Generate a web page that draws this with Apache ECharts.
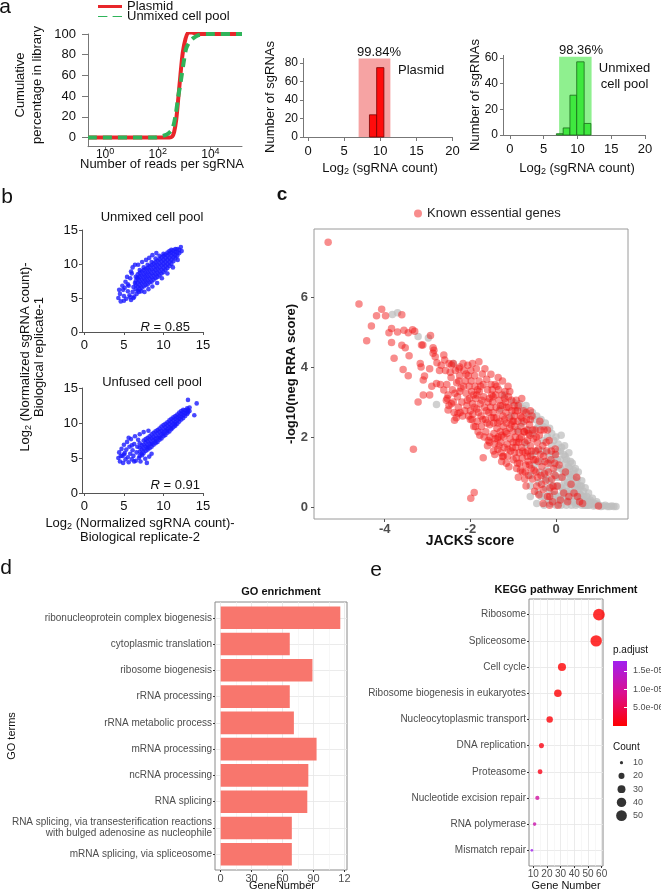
<!DOCTYPE html>
<html><head><meta charset="utf-8">
<script src="https://cdn.jsdelivr.net/npm/echarts@6/dist/echarts.min.js"></script>
<style>html,body{margin:0;padding:0;background:#fff}#c{width:661px;height:892px}</style>
</head><body><div id="c"></div>
<script>
// ================= DATA =================
// Panel a (left): cumulative distribution, x = log10(reads per sgRNA)
const cdfTicks = [0, 2, 4];
const cdfYTicks = [0, 20, 40, 60, 80, 100];
const cdfPlasmid = [[-0.65,0],[2.45,0],[2.55,1],[2.62,5],[2.7,17],[2.78,38],[2.86,60],[2.95,82],[3.05,95],[3.15,101],[3.3,101.5],[3.5,100],[5.2,100]];
const cdfUnmixed = [[-0.65,0],[1.9,0],[2.1,1],[2.35,3],[2.55,8],[2.68,22],[2.78,40],[2.88,55],[2.98,72],[3.08,86],[3.2,92],[3.35,96],[3.55,99],[3.85,100],[5.2,100]];
// Panel a (middle/right): histograms [binStart, binEnd, count]
const histXTicks = [0, 5, 10, 15, 20];
const plasmidBins = [[8.5,9.5,24],[9.5,10.5,75]];
const plasmidRange = [[7.0,11.4,85]];
const plasmidPct = '99.84%';
const unmixedBins = [[6.9,7.9,1],[7.9,8.9,5.5],[8.9,9.9,31],[9.9,11.0,57],[11.0,12.0,9]];
const unmixedRange = [[7.3,12.1,61]];
const unmixedPct = '98.36%';
// Panel b: replicate correlation (log2 normalized counts)
const repTicks = [0, 5, 10, 15];
const unmixedRep = [
[4.3,5.0],[4.5,5.6],[4.6,4.5],[4.9,6.2],[5.0,5.3],[5.2,7.4],[5.3,4.9],[5.5,6.0],[5.6,6.8],[5.7,5.4],[5.8,7.9],[5.9,4.7],[6.0,8.6],[6.1,5.9],[6.2,6.6],[6.3,5.2],[6.4,7.2],[6.6,5.6],[6.7,8.0],[6.9,5.9],[7.2,6.0],[4.8,6.8],[5.4,8.1],[5.1,6.5],[5.8,5.1],[4.4,6.2],[5.0,4.6],[5.5,7.0],[6.2,5.0],
[6.5,6.3],[6.5,6.9],[6.5,7.5],[6.5,8.1],[6.75,6.1],[6.75,6.7],[6.75,7.3],[6.75,7.9],[6.75,8.5],
[7,6.3],[7,6.9],[7,7.5],[7,8.1],[7,8.7],[7,9.1],[7.25,6.5],[7.25,7.1],[7.25,7.7],[7.25,8.3],[7.25,8.9],
[7.5,6.7],[7.5,7.3],[7.5,7.9],[7.5,8.5],[7.5,9.1],[7.5,9.5],[7.75,6.9],[7.75,7.5],[7.75,8.1],[7.75,8.7],[7.75,9.3],
[8,7.0],[8,7.6],[8,8.2],[8,8.8],[8,9.4],[8,9.9],[8.25,7.3],[8.25,7.9],[8.25,8.5],[8.25,9.1],[8.25,9.7],
[8.5,7.4],[8.5,8.0],[8.5,8.6],[8.5,9.2],[8.5,9.8],[8.5,10.3],[8.75,7.7],[8.75,8.3],[8.75,8.9],[8.75,9.5],[8.75,10.1],
[9,7.9],[9,8.5],[9,9.1],[9,9.7],[9,10.3],[9,10.8],[9.25,8.1],[9.25,8.7],[9.25,9.3],[9.25,9.9],[9.25,10.5],
[9.5,8.3],[9.5,8.9],[9.5,9.5],[9.5,10.1],[9.5,10.7],[9.5,11.2],[9.75,8.6],[9.75,9.2],[9.75,9.8],[9.75,10.4],[9.75,11.0],
[10,8.8],[10,9.4],[10,10.0],[10,10.6],[10,11.2],[10,11.5],[10.25,9.1],[10.25,9.7],[10.25,10.3],[10.25,10.9],[10.25,11.4],
[10.5,9.4],[10.5,10.0],[10.5,10.6],[10.5,11.2],[10.5,11.7],[10.75,9.7],[10.75,10.3],[10.75,10.9],[10.75,11.5],[10.75,11.9],
[11,10.0],[11,10.6],[11,11.2],[11,11.7],[11,12.1],[11.25,10.4],[11.25,11.0],[11.25,11.5],[11.25,12.0],
[11.5,10.8],[11.5,11.3],[11.5,11.8],[11.5,12.2],[11.75,11.2],[11.75,11.7],[11.75,12.2],[12,11.6],[12,12.1],
[5.9,8.9],[6.1,9.5],[6.4,9.9],[6.8,9.9],[7.3,10.3],[7.8,10.6],[8.2,10.9],[8.6,11.3],[9.1,11.6],[7.6,5.9],[8.1,6.3],[8.6,6.7],[9.2,7.2],[9.8,7.9],[10.5,8.6],[11.2,9.5],[11.8,10.6],[12.3,11.9],[12.2,12.5]
];
const unfusedRep = [
[4.3,5.0],[4.4,5.8],[4.5,4.5],[4.7,6.3],[4.8,5.3],[4.9,4.3],[5.0,6.9],[5.1,5.7],[5.2,4.8],[5.3,6.2],[5.4,7.3],[5.5,5.1],[5.6,4.4],[5.7,6.6],[5.8,5.6],[5.9,7.7],[6.0,4.8],[6.1,6.1],[6.2,5.3],[6.3,7.0],[6.4,8.1],[6.5,4.6],[6.6,5.8],[6.7,6.6],[6.8,7.6],[6.9,5.0],[7.0,8.4],[7.1,4.5],[7.3,5.4],[7.5,8.7],[7.7,4.9],[7.9,4.3],[8.2,5.2],[8.5,5.6],[8.1,8.9],[5.0,5.5],[5.6,7.9],[6.3,4.5],[4.6,5.3],[6.0,6.8],
[7,5.3],[7,5.9],[7,6.5],[7,7.1],[7.25,5.6],[7.25,6.2],[7.25,6.8],[7.5,5.7],[7.5,6.3],[7.5,6.9],[7.5,7.5],[7.75,6.0],[7.75,6.6],[7.75,7.2],[7.75,7.7],
[8,6.2],[8,6.8],[8,7.4],[8,7.9],[8,6.5],[8.25,6.4],[8.25,7.0],[8.25,7.6],[8.25,8.1],[8.5,6.6],[8.5,7.2],[8.5,7.8],[8.5,8.4],[8.5,7.0],[8.75,6.9],[8.75,7.5],[8.75,8.0],[8.75,8.6],
[9,7.1],[9,7.7],[9,8.2],[9,8.8],[9,7.4],[9.25,7.3],[9.25,7.9],[9.25,8.5],[9.25,9.0],[9.5,7.6],[9.5,8.1],[9.5,8.7],[9.5,9.2],[9.5,7.9],[9.75,7.8],[9.75,8.4],[9.75,8.9],[9.75,9.5],
[10,8.1],[10,8.6],[10,9.1],[10,9.7],[10,8.4],[10.25,8.3],[10.25,8.9],[10.25,9.4],[10.25,9.9],[10.5,8.6],[10.5,9.1],[10.5,9.6],[10.5,10.1],[10.5,8.9],[10.75,8.8],[10.75,9.4],[10.75,9.9],[10.75,10.4],
[11,9.1],[11,9.6],[11,10.1],[11,10.6],[11,9.3],[11.25,9.4],[11.25,9.9],[11.25,10.4],[11.25,10.8],[11.5,9.6],[11.5,10.1],[11.5,10.6],[11.5,11.0],[11.5,9.8],[11.75,9.9],[11.75,10.4],[11.75,10.8],[11.75,11.2],
[12,10.2],[12,10.6],[12,11.0],[12,11.5],[12.25,10.5],[12.25,10.9],[12.25,11.3],[12.25,11.7],[12.5,10.7],[12.5,11.1],[12.5,11.5],[12.5,11.9],[12.75,11.0],[12.75,11.4],[12.75,11.8],
[13,11.3],[13,11.7],[13,12.1],[13.1,11.5],[13.1,11.9],[13.3,11.7],[13.3,12.2],
[13.1,13.3],[13.9,11.1],[14.2,12.8]
];
const unmixedR = '0.85';
const unfusedR = '0.91';
// Panel c: JACKS score vs -log10(neg RRA score)
const jacksXTicks = [-4, -2, 0];
const rraYTicks = [0, 2, 4, 6];
const otherGenes = [
[-1.2,3.2],[-1.0,3.0],[-0.9,2.85],[-0.85,2.95],[-0.75,2.8],[-0.7,2.9],[-0.65,2.65],[-0.55,2.7],[-0.5,2.5],[-0.45,2.6],[-0.4,2.35],[-0.35,2.5],[-0.3,2.3],[-0.25,2.4],[-0.2,2.0],[-0.15,2.25],[-0.1,2.1],[-0.05,1.9],[0.0,2.0],[0.05,1.8],[0.1,1.6],[0.12,2.05],[0.18,1.5],[0.2,1.75],[0.25,1.35],[0.3,1.55],[0.32,1.1],[0.38,1.25],[0.42,0.95],[0.45,1.1],[0.5,0.8],[0.52,1.0],[0.56,0.6],[0.6,0.75],[0.64,0.45],[0.68,0.55],[0.72,0.3],[0.76,0.4],[0.8,0.2],[0.85,0.25],[0.9,0.1],[0.95,0.15],[1.0,0.05],[1.1,0.03],[1.2,0.02],[1.3,0.03],[1.4,0.02],
[-0.45,0.1],[-0.4,0.7],[-0.35,1.3],[-0.3,1.9],[-0.28,0.05],[-0.25,0.55],[-0.22,1.05],[-0.2,1.55],[-0.18,0.2],[-0.15,0.75],[-0.12,1.25],[-0.1,1.75],[-0.08,0.35],[-0.05,0.95],[-0.03,1.45],[0.0,0.05],[0.0,0.6],[0.02,1.15],[0.04,1.6],[0.06,0.3],[0.08,0.85],[0.1,1.35],[0.12,0.05],[0.14,0.55],[0.16,1.05],[0.18,0.25],[0.2,0.75],[0.22,1.25],[0.24,0.05],[0.26,0.45],[0.28,0.95],[0.3,0.2],[0.32,0.65],[0.34,1.3],[0.36,0.05],[0.38,0.4],[0.4,0.8],[0.42,0.15],[0.44,0.55],[0.46,0.05],[0.48,0.3],[0.5,0.6],[0.52,0.1],[0.54,0.4],[0.58,0.2],[0.6,0.05],[0.62,0.3],[0.66,0.1],[0.7,0.05],[0.74,0.15],[0.78,0.05],[0.82,0.08],[0.88,0.03],[-0.6,0.9],[-0.55,1.5],[-0.6,0.3],[-0.35,0.3],[-0.15,0.45],[0.05,0.2],[0.15,0.35],[-0.25,0.85],[-0.05,0.15],[0.25,0.6],[0.35,0.85],[-0.45,1.6],[-0.65,2.2],[-0.8,2.4],[-1.05,2.6],[-1.3,2.8],
[-0.42,0.4],[-0.38,1.0],[-0.32,1.6],[-0.27,0.3],[-0.23,0.8],[-0.17,1.35],[-0.13,0.1],[-0.09,0.6],[-0.07,1.5],[-0.02,0.35],[0.01,0.85],[0.03,1.35],[0.07,0.1],[0.09,0.6],[0.11,1.1],[0.13,1.7],[0.17,0.45],[0.19,0.95],[0.21,1.45],[0.23,0.2],[0.27,0.7],[0.29,1.15],[0.31,0.4],[0.33,0.9],[0.37,0.15],[0.39,0.6],[0.41,1.05],[0.43,0.3],[0.47,0.75],[0.49,0.1],[0.53,0.5],[0.57,0.35],[0.59,0.6],[0.61,0.15],[0.65,0.3],[0.67,0.05],[0.71,0.2],[0.75,0.05],[0.79,0.15],[0.84,0.1],[0.92,0.05],[0.97,0.08],[1.05,0.02],[1.15,0.05],[1.25,0.02],[1.35,0.02],[-0.5,1.2],[-0.55,2.1],[-0.7,1.8],[-0.9,2.2],[-0.6,0.6],[-0.45,2.25],
[-3.82,5.5],[-3.22,4.87],[-2.98,4.83],[-2.4,4.1],[-2.79,2.93],[-3.7,5.55]
];
const essentialGenes = [
[-5.32,7.56],[-4.6,5.8],[-4.07,5.65],[-4.19,5.46],[-3.98,5.46],[-3.6,5.49],[-4.31,5.17],[-4.42,4.75],[-3.84,5.1],[-3.9,4.98],[-3.7,5.0],[-3.55,5.05],[-3.45,4.98],[-3.3,5.02],[-3.35,5.06],[-3.84,4.7],[-3.6,4.62],[-3.52,4.55],[-3.78,4.25],[-3.43,4.32],[-3.57,3.93],[-3.45,3.75],[-3.14,4.63],[-2.93,4.9],[-2.87,4.55],[-2.85,4.48],[-3.17,4.1],[-3.15,4.0],[-3.1,3.63],[-3.1,3.2],[-3.33,1.65],[-1.99,0.25],[-1.91,0.42],[-1.7,1.41],[-2.62,4.34],[-2.5,4.1],[-2.4,4.1],[-2.17,4.1],[-1.52,3.79],[-1.25,1.44],[-0.02,1.66],[0.3,0.3],[0.5,0.3],[0.99,0.03],
[-3.11,4.63],[-2.87,4.39],[-2.82,4.29],[-2.6,4.2],[-2.44,4.06],[-2.25,4.0],[-2.1,3.8],[-3.07,3.74],[-2.79,3.53],[-2.7,3.5],[-2.62,3.34],[-2.54,3.1],[-2.25,3.3],[-2.52,2.77],[-2.29,2.67],[-2.37,2.48],[-2.72,3.9],[-2.95,3.95],[-2.9,3.45],[-2.68,4.05],[-2.78,4.12],[-3.22,3.0],[-2.95,3.2],[-2.06,4.05],[-1.95,4.1],[-1.8,4.15],[-1.35,3.7],[-1.25,3.6],[-0.93,3.05],[-0.8,3.1],[-0.6,2.75],[-0.38,2.45],[-0.2,2.2],[-1.6,1.75],[-1.1,1.15],[-0.7,0.6],[-0.5,0.45],[-0.3,0.1],[-0.15,0.05],[0.05,0.05],
[-2.58,3.9],[-2.55,3.5],[-2.52,3.2],[-2.5,2.9],[-2.45,3.7],[-2.42,3.35],[-2.4,3.0],[-2.38,2.7],[-2.35,3.9],[-2.32,3.55],[-2.3,3.15],[-2.28,2.85],[-2.25,3.75],[-2.22,3.4],[-2.2,3.0],[-2.18,2.6],[-2.15,3.9],[-2.12,3.6],[-2.1,3.25],[-2.08,2.9],[-2.05,3.75],[-2.03,3.45],[-2.02,3.1],[-2.0,2.5],[-2.0,2.75],
[-2.56,3.05],[-2.47,3.85],[-2.44,2.95],[-2.36,3.25],[-2.33,2.55],[-2.27,3.6],[-2.24,2.7],[-2.16,3.45],[-2.13,2.75],[-2.07,3.05],[-2.04,2.6],[-2.27,3.95],
[-1.98,3.6],[-1.97,3.3],[-1.95,2.95],[-1.94,2.65],[-1.92,2.3],[-1.9,3.75],[-1.89,3.45],[-1.87,3.1],[-1.85,2.8],[-1.84,2.45],[-1.82,2.15],[-1.8,3.6],[-1.79,3.3],[-1.77,2.95],[-1.75,2.6],[-1.74,2.3],[-1.72,3.8],[-1.7,3.5],[-1.69,3.15],[-1.67,2.85],[-1.65,2.5],[-1.64,2.15],[-1.62,3.65],[-1.6,3.35],[-1.59,3.0],[-1.57,2.7],[-1.55,2.35],[-1.54,2.0],[-1.52,3.5],[-1.5,3.2],[-1.86,3.95],[-1.78,2.05],[-1.66,3.95],[-1.58,1.9],[-1.93,3.2],[-1.83,3.35],[-1.73,3.05],[-1.63,2.75],[-1.53,2.85],[-1.51,2.55],
[-1.96,2.5],[-1.91,2.85],[-1.88,2.3],[-1.81,2.7],[-1.76,3.45],[-1.71,2.5],[-1.68,2.0],[-1.61,2.4],[-1.56,3.1],[-1.55,1.85],[-1.99,3.9],[-1.85,3.2],
[-1.49,3.35],[-1.48,3.0],[-1.47,2.7],[-1.46,2.4],[-1.45,2.1],[-1.44,1.8],[-1.43,1.5],[-1.41,3.2],[-1.4,2.85],[-1.39,2.55],[-1.38,2.25],[-1.37,1.95],[-1.36,1.65],[-1.34,3.35],[-1.33,3.05],[-1.32,2.75],[-1.31,2.45],[-1.3,2.15],[-1.29,1.85],[-1.28,1.55],[-1.26,3.2],[-1.25,2.9],[-1.24,2.6],[-1.23,2.3],[-1.22,2.0],[-1.21,1.7],[-1.19,3.3],[-1.18,3.0],[-1.17,2.7],[-1.16,2.4],[-1.15,2.1],[-1.14,1.8],[-1.13,1.45],[-1.11,3.15],[-1.1,2.85],[-1.09,2.55],[-1.08,2.25],[-1.07,1.95],[-1.06,1.6],[-1.04,3.05],[-1.03,2.75],[-1.02,2.45],[-1.01,2.15],[-1.0,1.85],[-1.0,1.35],[-1.42,3.5],[-1.27,1.3],[-1.12,3.45],[-1.35,2.0],[-1.2,2.5],
[-1.47,3.15],[-1.45,2.55],[-1.42,1.95],[-1.38,3.45],[-1.36,2.4],[-1.33,1.75],[-1.3,2.9],[-1.27,2.05],[-1.23,1.45],[-1.2,3.1],[-1.18,2.15],[-1.15,2.85],[-1.12,1.65],[-1.08,3.3],[-1.05,2.35],[-1.02,1.7],[-1.46,1.6],[-1.16,1.25],
[-0.98,2.9],[-0.97,2.6],[-0.96,2.3],[-0.95,2.0],[-0.94,1.7],[-0.93,1.4],[-0.92,1.1],[-0.9,2.75],[-0.89,2.45],[-0.88,2.15],[-0.87,1.85],[-0.86,1.55],[-0.85,1.25],[-0.83,2.6],[-0.82,2.3],[-0.81,2.0],[-0.8,1.7],[-0.79,1.4],[-0.78,1.0],[-0.76,2.75],[-0.75,2.45],[-0.74,2.15],[-0.73,1.85],[-0.72,1.55],[-0.71,1.2],[-0.69,2.5],[-0.68,2.2],[-0.67,1.9],[-0.66,1.6],[-0.65,1.3],[-0.64,0.9],[-0.62,2.35],[-0.61,2.05],[-0.6,1.75],[-0.59,1.45],[-0.58,1.1],[-0.56,2.6],[-0.55,0.8],[-0.53,1.95],[-0.52,1.35],
[-0.99,2.45],[-0.97,1.55],[-0.95,2.75],[-0.92,1.85],[-0.9,1.25],[-0.88,2.9],[-0.85,1.95],[-0.83,1.05],[-0.8,2.55],[-0.78,1.6],[-0.75,2.15],[-0.72,1.0],[-0.7,2.7],[-0.67,1.45],[-0.64,2.1],[-0.62,1.2],[-0.6,2.5],[-0.57,1.6],[-0.54,2.2],[-0.51,1.05],[-0.88,0.85],[-0.73,0.8],
[-0.49,2.2],[-0.48,1.6],[-0.47,1.0],[-0.45,0.6],[-0.44,1.85],[-0.42,1.3],[-0.4,0.35],[-0.39,2.05],[-0.37,1.5],[-0.35,0.9],[-0.33,1.15],[-0.31,1.75],[-0.3,0.5],[-0.28,2.2],[-0.26,1.3],[-0.24,0.75],[-0.22,1.6],[-0.2,0.3],[-0.18,1.0],[-0.16,1.9],[-0.14,0.55],[-0.12,1.35],[-0.1,0.8],[-0.08,0.15],[-0.06,1.1],[-0.04,0.45],[-0.02,0.9],[-0.01,1.5],
[-0.48,1.35],[-0.46,2.0],[-0.43,0.85],[-0.41,1.65],[-0.36,2.2],[-0.34,0.65],[-0.29,1.45],[-0.27,0.95],[-0.23,1.85],[-0.19,1.25],[-0.15,0.3],[-0.11,1.6],[-0.07,0.6],[-0.03,1.25],
[0.03,0.6],[0.07,1.2],[0.1,0.2],[0.14,0.85],[0.18,0.4],[0.22,1.0],[0.27,0.15],[0.35,0.65],[0.42,0.4],[0.55,0.15],[0.48,0.85],[0.62,0.1]
];
// Panel d: GO enrichment
const goTerms = ['ribonucleoprotein complex biogenesis','cytoplasmic translation','ribosome biogenesis','rRNA processing','rRNA metabolic process','mRNA processing','ncRNA processing','RNA splicing','RNA splicing, via transesterification reactions\nwith bulged adenosine as nucleophile','mRNA splicing, via spliceosome'];
const goCounts = [116, 67, 89, 67, 71, 93, 85, 84, 69, 69];
const goXTicks = [0, 30, 60, 90, 120];
const goXMinor = [15, 45, 75, 105];
// Panel e: KEGG enrichment
const keggTerms = ['Ribosome','Spliceosome','Cell cycle','Ribosome biogenesis in eukaryotes','Nucleocytoplasmic transport','DNA replication','Proteasome','Nucleotide excision repair','RNA polymerase','Mismatch repair'];
const keggCounts = [58, 56, 31, 28, 22, 16, 15, 13, 11, 9];
const keggPadj = [1e-10, 5e-9, 1e-7, 2e-7, 5e-7, 1.2e-6, 1.5e-6, 1.05e-5, 1.15e-5, 1.75e-5];
const keggXTicks = [10, 20, 30, 40, 50, 60];
const keggXMinor = [15, 25, 35, 45, 55];
const padjTicks = [5e-6, 1e-5, 1.5e-5];
const padjMax = 1.77e-5;
const countLevels = [10, 20, 30, 40, 50];
const termIndex = [0,1,2,3,4,5,6,7,8,9];

// ================= STYLE / HELPERS =================
const FONT = '"Liberation Sans", Arial, Helvetica, sans-serif';
const SUB = {fontSize: 9, fontFamily: FONT, padding: [7,0,0,0]};
const SUP = {fontSize: 9, fontFamily: FONT, padding: [0,0,5,0], color:'#111'};
function sizeFn(v){ return Math.sqrt(2.7*2.7 + (v-9)/49*(11.7*11.7-2.7*2.7)); }
function fmtE(v){ const s=v.toExponential(1).split('e'); const e=+s[1]; const n=Math.abs(e); return s[0]+'e'+(e<0?'-':'+')+(n<10?'0':'')+n; }

function plainAxis(gi, min, max, ticks, o){
  o = o || {};
  const col = o.lineColor || '#666';
  return {
    type:'value', gridIndex:gi, min:min, max:max, inverse: !!o.inverse, position: o.position,
    axisLine:{show: o.line !== false, onZero:false, lineStyle:{color:col, width:1}},
    axisTick:{show: o.tick !== false, customValues:ticks, length:o.tickLen||4, inside: !!o.tickInside, lineStyle:{color:o.tickColor||col, width:1}},
    axisLabel:{show: o.label !== false, customValues:ticks, fontSize:o.fs||13, color:o.labelColor||'#111', margin:o.margin||4, fontWeight:o.fw||'normal', fontFamily:FONT,
      formatter:o.fmt, rich:o.rich, hideOverlap:false, lineHeight:o.lh},
    splitLine:{show: !!o.split, lineStyle:{color:o.splitColor||'#e6e6e6', width:o.splitWidth||0.8}},
    z: o.z
  };
}
function txt(x, y, text, o){
  o = o || {};
  const st = {text:text, fill:o.color||'#111', fontSize:o.size||13, fontFamily:FONT, fontWeight:o.weight||'normal',
    align:o.align||'center', verticalAlign:'middle'};
  if (o.lh) st.lineHeight = o.lh;
  if (o.rich) st.rich = o.rich;
  return {type:'text', x:x, y:y, rotation:o.rot||0, silent:true, z:100, style:st};
}
function rectRender(color, stroke){
  return function(params, api){
    const a = api.coord([api.value(0), api.value(2)]);
    const b = api.coord([api.value(1), 0]);
    return {type:'rect', shape:{x:a[0], y:a[1], width:b[0]-a[0], height:b[1]-a[1]},
      style:{fill:color, stroke:stroke||null, lineWidth:stroke?0.8:0}};
  };
}
const R90 = Math.PI/2;
const richSub = {b: SUB};
const lgText = {fontSize:13, color:'#111', fontFamily:FONT};

// ================= OPTION =================
const option = {
  animation:false,
  backgroundColor:'#fff',
  textStyle:{fontFamily:FONT},
  grid:[
    {left:88, top:34, width:154, height:112.7},
    {left:303, top:58.4, width:149.5, height:78.6},
    {left:503, top:55.4, width:142, height:79.6},
    {left:82, top:230, width:121, height:102},
    {left:82, top:388, width:121, height:105},
    {left:314, top:229, width:314, height:290, show:true, borderColor:'#9a9a9a', borderWidth:1},
    {left:215, top:602, width:132, height:268, show:true, borderColor:'#8a8a8a', borderWidth:1},
    {left:529, top:599, width:74, height:267, show:true, borderColor:'#8a8a8a', borderWidth:1},
    {left:613, top:661, width:14, height:65},
    {left:613, top:756, width:17, height:66.25}
  ].map(g => Object.assign({containLabel:false, outerBoundsMode:'none'}, g)),
  xAxis:[
    plainAxis(0, -0.65, 5.2, cdfTicks, {lineColor:'#777', fs:12, margin:1, tickLen:3, lh:13, fmt:v=>'10{s|'+v+'}', rich:{s:SUP}}),
    plainAxis(1, -0.7, 20, histXTicks, {lineColor:'#777', fs:13, margin:8}),
    plainAxis(2, -1, 20, histXTicks, {lineColor:'#777', fs:13, margin:8}),
    plainAxis(3, -0.3, 15, repTicks, {lineColor:'#555', fs:13, margin:7, tickLen:3}),
    plainAxis(4, -0.3, 15, repTicks, {lineColor:'#555', fs:13, margin:7, tickLen:3}),
    plainAxis(5, -5.65, 1.68, jacksXTicks, {line:false, tickColor:'#555', tickLen:3, fs:13, fw:'bold', labelColor:'#4d4d4d', margin:4}),
    plainAxis(6, -5.5, 122.5, goXTicks, {line:false, tickColor:'#333', tickLen:2, fs:11, labelColor:'#4d4d4d', margin:3, split:true, fmt:v=>v===120?'12':String(v)}),
    plainAxis(6, -5.5, 122.5, goXMinor, {line:false, tick:false, label:false, split:true, splitColor:'#f2f2f2', splitWidth:0.6, position:'top'}),
    plainAxis(7, 6.9, 61, keggXTicks, {line:false, tickColor:'#333', tickLen:2, fs:10, labelColor:'#4d4d4d', margin:3, split:true}),
    plainAxis(7, 6.9, 61, keggXMinor, {line:false, tick:false, label:false, split:true, splitColor:'#f2f2f2', splitWidth:0.6, position:'top'}),
    {type:'category', gridIndex:8, data:['p'], show:false},
    {type:'value', gridIndex:9, min:0, max:1, show:false}
  ],
  yAxis:[
    plainAxis(0, -8.9, 100, cdfYTicks, {lineColor:'#777', fs:13, margin:12, tickLen:6}),
    plainAxis(1, 0, 85, [0,20,40,60,80], {lineColor:'#777', fs:12, margin:5, tickLen:3}),
    plainAxis(2, 0, 62, [0,20,40,60], {lineColor:'#777', fs:12, margin:5, tickLen:3}),
    plainAxis(3, 0, 15, repTicks, {lineColor:'#555', fs:13, margin:4, tickLen:3}),
    plainAxis(4, 0, 15, repTicks, {lineColor:'#555', fs:13, margin:4, tickLen:3}),
    plainAxis(5, -0.34, 7.94, rraYTicks, {line:false, tickColor:'#555', tickLen:3, fs:13, fw:'bold', labelColor:'#4d4d4d', margin:6}),
    plainAxis(6, -0.6, 9.6, termIndex, {inverse:true, line:false, tickColor:'#333', tickLen:2, fs:10, labelColor:'#4d4d4d', margin:3, split:true, lh:11, fmt:v=>goTerms[v]}),
    plainAxis(7, -0.6, 9.6, termIndex, {inverse:true, line:false, tickColor:'#333', tickLen:2, fs:10, labelColor:'#4d4d4d', margin:3, split:true, fmt:v=>keggTerms[v]}),
    plainAxis(8, 0, padjMax, padjTicks, {position:'right', line:false, tickInside:true, tickColor:'#fff', tickLen:3, fs:9, labelColor:'#4d4d4d', margin:6, fmt:fmtE, z:10}),
    {type:'category', gridIndex:9, data:countLevels.map(String), inverse:true, position:'right',
      axisLine:{show:false}, axisTick:{show:false}, axisLabel:{fontSize:9, color:'#4d4d4d', margin:3, fontFamily:FONT}}
  ],
  legend:[
    {data:[{name:'Plasmid', icon:'rect'}], left:98, top:0, padding:0, itemWidth:24, itemHeight:3, textStyle:lgText},
    {data:[{name:'Unmixed cell pool', icon:'path://M0,0H9V1H0Z M14,0H23V1H14Z'}], left:98, top:10, padding:0, itemWidth:24, itemHeight:3, textStyle:lgText},
    {data:[{name:'Known essential genes', icon:'circle'}], left:414, top:207, padding:0, itemWidth:8, itemHeight:8, textStyle:{fontSize:13, color:'#222', fontFamily:FONT}}
  ],
  visualMap:[{type:'continuous', show:false, seriesIndex:11, dimension:2, min:0, max:padjMax,
    inRange:{color:['#ff0000','#dc0e8e','#a020f0']}}],
  series:[
    {type:'line', name:'Plasmid', xAxisIndex:0, yAxisIndex:0, data:cdfPlasmid, symbol:'none', smooth:0.3,
      lineStyle:{color:'#e8262a', width:4}, itemStyle:{color:'#e8262a'}},
    {type:'line', name:'Unmixed cell pool', xAxisIndex:0, yAxisIndex:0, data:cdfUnmixed, symbol:'none', smooth:0.3,
      lineStyle:{color:'#2fb45a', width:4, type:[9,6]}, itemStyle:{color:'#2fb45a'}},
    {type:'custom', xAxisIndex:1, yAxisIndex:1, data:plasmidRange, renderItem:rectRender('#f6a3a3'), z:1, silent:true},
    {type:'custom', xAxisIndex:1, yAxisIndex:1, data:plasmidBins, renderItem:rectRender('#ff0c0c','#7a0000'), z:2, silent:true},
    {type:'custom', xAxisIndex:2, yAxisIndex:2, data:unmixedRange, renderItem:rectRender('#8ff08f'), z:1, silent:true},
    {type:'custom', xAxisIndex:2, yAxisIndex:2, data:unmixedBins, renderItem:rectRender('#3fe83f','#1b6b1b'), z:2, silent:true},
    {type:'scatter', xAxisIndex:3, yAxisIndex:3, data:unmixedRep, symbolSize:4.6, itemStyle:{color:'#1a1aff'}, silent:true},
    {type:'scatter', xAxisIndex:4, yAxisIndex:4, data:unfusedRep, symbolSize:4.6, itemStyle:{color:'#1a1aff'}, silent:true},
    {type:'scatter', name:'Other genes', xAxisIndex:5, yAxisIndex:5, data:otherGenes, symbolSize:7.5, itemStyle:{color:'rgba(190,190,190,0.9)'}, silent:true},
    {type:'scatter', name:'Known essential genes', xAxisIndex:5, yAxisIndex:5, data:essentialGenes, symbolSize:7.5, itemStyle:{color:'rgba(240,25,25,0.62)'}, silent:true},
    {type:'custom', xAxisIndex:6, yAxisIndex:6, data:goCounts.map((v,i)=>[i,v]), silent:true,
      renderItem:function(params, api){
        const i = api.value(0), v = api.value(1);
        const a = api.coord([0, i-0.43]), b = api.coord([v, i+0.43]);
        return {type:'rect', shape:{x:a[0], y:Math.min(a[1],b[1]), width:b[0]-a[0], height:Math.abs(b[1]-a[1])}, style:{fill:'#F8766D'}};
      }},
    {type:'scatter', xAxisIndex:8, yAxisIndex:7, data:keggCounts.map((v,i)=>[v,i,keggPadj[i]]),
      symbolSize:function(val){return sizeFn(val[0]);}, silent:true},
    {type:'bar', xAxisIndex:10, yAxisIndex:8, data:[padjMax], barWidth:'100%', silent:true,
      itemStyle:{color:new echarts.graphic.LinearGradient(0,1,0,0,[{offset:0,color:'#ff0000'},{offset:0.5,color:'#dc0e8e'},{offset:1,color:'#a020f0'}])}},
    {type:'scatter', xAxisIndex:11, yAxisIndex:9, data:countLevels.map((v,i)=>[0.5,i,v]),
      symbolSize:function(val){return sizeFn(val[2]);}, itemStyle:{color:'#000'}, silent:true}
  ],
  graphic:[
    txt(5, 7, 'a', {size:21}),
    txt(7, 197, 'b', {size:21}),
    txt(282, 195, 'c', {size:19, weight:'bold'}),
    txt(6, 568, 'd', {size:21}),
    txt(376, 570, 'e', {size:21}),
    txt(28.5, 85, 'Cumulative\npercentage in library', {rot:R90, lh:17}),
    txt(162, 164, 'Number of reads per sgRNA'),
    txt(270, 97, 'Number of sgRNAs', {rot:R90}),
    txt(380, 168, 'Log{b|2} (sgRNA count)', {rich:richSub}),
    txt(379, 52, plasmidPct),
    txt(398, 70, 'Plasmid', {align:'left'}),
    txt(475, 95, 'Number of sgRNAs', {rot:R90}),
    txt(577, 168, 'Log{b|2} (sgRNA count)', {rich:richSub}),
    txt(581, 50, unmixedPct),
    txt(624.5, 76, 'Unmixed\ncell pool', {lh:16}),
    txt(152, 217, 'Unmixed cell pool'),
    txt(152, 382, 'Unfused cell pool'),
    txt(190, 327, '{i|R} = ' + unmixedR, {align:'right', rich:{i:{fontStyle:'italic', fontSize:13, fontFamily:FONT}}}),
    txt(200, 485, '{i|R} = ' + unfusedR, {align:'right', rich:{i:{fontStyle:'italic', fontSize:13, fontFamily:FONT}}}),
    txt(32, 357, 'Log{b|2} (Normalized sgRNA count)-\nBiological replicate-1', {rot:R90, lh:14, rich:richSub}),
    txt(140, 530, 'Log{b|2} (Normalized sgRNA count)-\nBiological replicate-2', {lh:14, rich:richSub}),
    txt(291, 374, '-log10(neg RRA score)', {rot:R90, weight:'bold'}),
    txt(470, 541, 'JACKS score', {size:14, weight:'bold'}),
    txt(281, 592, 'GO enrichment', {size:11, weight:'bold'}),
    txt(12, 736, 'GO terms', {rot:R90, size:11}),
    txt(282, 886, 'GeneNumber', {size:11}),
    txt(566, 590, 'KEGG pathway Enrichment', {size:11, weight:'bold'}),
    txt(566, 886, 'Gene Number', {size:11}),
    txt(613, 650, 'p.adjust', {align:'left', size:10}),
    txt(613, 747, 'Count', {align:'left', size:10})
  ]
};
const chart = echarts.init(document.getElementById('c'), null, {renderer:'canvas', width:661, height:892});
chart.setOption(option);
</script>
</body></html>
